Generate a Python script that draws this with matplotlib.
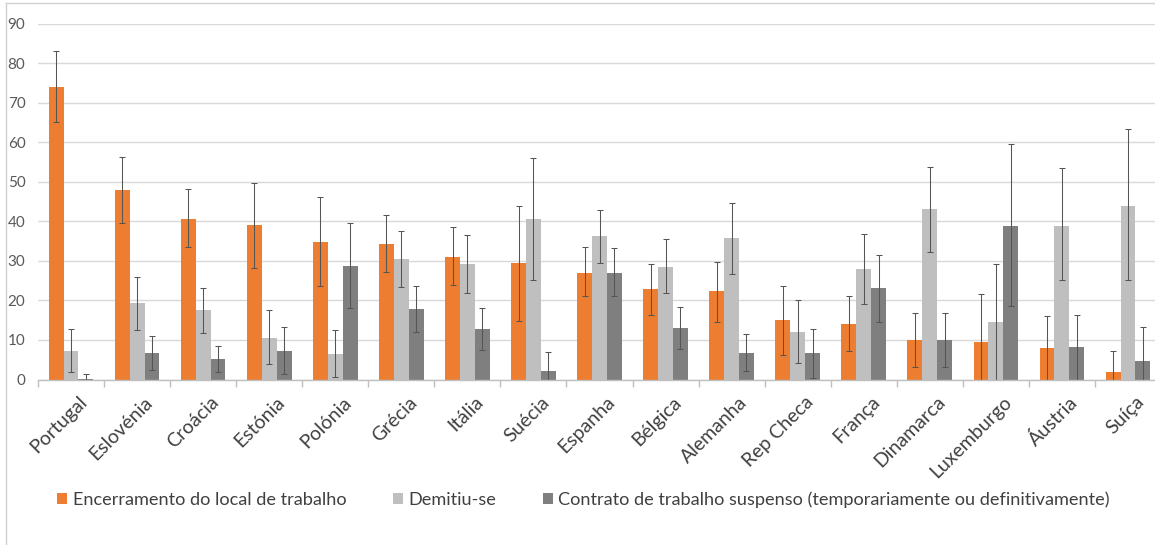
import matplotlib
matplotlib.use("Agg")
import matplotlib.pyplot as plt
import numpy as np
from matplotlib.patches import Patch
from matplotlib.lines import Line2D

countries = ["Portugal", "Eslovénia", "Croácia", "Estónia", "Polónia", "Grécia",
             "Itália", "Suécia", "Espanha", "Bélgica", "Alemanha", "Rep Checa",
             "França", "Dinamarca", "Luxemburgo", "Áustria", "Suíça"]

series_names = ["Encerramento do local de trabalho", "Demitiu-se",
                "Contrato de trabalho suspenso (temporariamente ou definitivamente)"]

encerramento = [74.0, 48.0, 40.7, 39.1, 34.7, 34.3, 31.1, 29.4, 27.0, 23.0, 22.3, 15.0,
                14.0, 10.0, 9.4, 8.0, 1.8]
encerramento_lo = [65.2, 39.7, 33.4, 28.3, 23.6, 27.2, 23.9, 14.9, 21.2, 16.3, 14.6, 6.2,
                   7.3, 3.2, 0.0, 0.0, 0.0]
encerramento_hi = [83.1, 56.4, 48.1, 49.8, 46.1, 41.6, 38.5, 44.0, 33.4, 29.2, 29.8, 23.7,
                   21.1, 16.7, 21.6, 16.0, 7.3]

demitiu = [7.3, 19.3, 17.5, 10.6, 6.5, 30.4, 29.2, 40.5, 36.2, 28.5, 35.7, 12.0,
           27.9, 43.1, 14.5, 38.9, 44.0]
demitiu_lo = [1.9, 12.6, 11.8, 3.8, 0.7, 23.5, 22.0, 25.1, 29.4, 21.8, 26.7, 4.2,
              19.2, 32.3, 0.0, 25.1, 25.1]
demitiu_hi = [12.8, 25.9, 23.2, 17.5, 12.5, 37.5, 36.6, 56.1, 42.9, 35.5, 44.6, 20.1,
              36.9, 53.8, 29.1, 53.4, 63.3]

suspenso = [0.2, 6.7, 5.2, 7.3, 28.8, 17.9, 12.7, 2.2, 26.9, 13.0, 6.8, 6.6,
            23.2, 10.0, 38.8, 8.2, 4.8]
suspenso_lo = [0.0, 2.5, 1.9, 1.3, 18.2, 12.1, 7.4, 0.0, 21.2, 7.8, 2.2, 0.5,
               14.6, 3.2, 18.6, 0.0, 0.0]
suspenso_hi = [1.4, 11.0, 8.6, 13.2, 39.6, 23.6, 18.0, 6.9, 33.2, 18.3, 11.6, 12.7,
               31.4, 16.7, 59.5, 16.3, 13.2]

yticks = [0, 10, 20, 30, 40, 50, 60, 70, 80, 90]

colors = ["#ED7D31", "#BFBFBF", "#7F7F7F"]
text_color = "#595959"
font = ["Lato", "DejaVu Sans"]
plt.rcParams["font.family"] = font

W, H = 1155, 545
fig = plt.figure(figsize=(W / 100, H / 100), dpi=100)
fig.patch.set_facecolor("white")

# plot area (right edge continues slightly past the canvas)
x0, x1, ytop, ybot = 38, 1161, 23.8, 379.5
ax = fig.add_axes([x0 / W, 1 - ybot / H, (x1 - x0) / W, (ybot - ytop) / H])
ax.set_facecolor("white")

n = len(countries)
x = np.arange(n)
bw = 0.225
data = [(encerramento, encerramento_lo, encerramento_hi),
        (demitiu, demitiu_lo, demitiu_hi),
        (suspenso, suspenso_lo, suspenso_hi)]

for i, (vals, lo, hi) in enumerate(data):
    vals = np.array(vals)
    pos = x + (i - 1) * bw
    ax.bar(pos, vals, width=bw, color=colors[i], zorder=2, label=series_names[i])
    yerr = np.vstack([vals - np.array(lo), np.array(hi) - vals])
    ax.errorbar(pos, vals, yerr=yerr, fmt="none", ecolor="#555555", elinewidth=0.75,
                capsize=2, capthick=0.75, zorder=3)

ax.set_xlim(-0.5, n - 0.5)
ax.set_ylim(0, 90)
ax.set_yticks(yticks)
ax.yaxis.grid(True, color="#D9D9D9", linewidth=1.0, zorder=0)
ax.set_axisbelow(True)
for s in ["top", "right", "left"]:
    ax.spines[s].set_visible(False)
ax.spines["bottom"].set_color("#BFBFBF")
ax.spines["bottom"].set_linewidth(1.0)
ax.spines["bottom"].set_zorder(4)

ax.tick_params(axis="y", length=0, pad=9, labelsize=11, labelcolor=text_color)
ax.set_xticks(x)
ax.set_xticklabels(countries, rotation=45, ha="right", rotation_mode="anchor",
                   fontsize=14, color="#404040")
ax.tick_params(axis="x", which="major", length=0, pad=10)
ax.set_xticks(np.arange(n + 1) - 0.5, minor=True)
ax.tick_params(axis="x", which="minor", length=5, color="#BFBFBF", width=1)
offset = matplotlib.transforms.ScaledTranslation(7 / 100, 0, fig.dpi_scale_trans)
for lab in ax.get_xticklabels():
    lab.set_transform(lab.get_transform() + offset)

# legend
fs = 13.1
fpx = fs * 100 / 72
handles = [Patch(facecolor=c, edgecolor="none") for c in colors]
fig.legend(handles, series_names, loc="center left",
           bbox_to_anchor=(57 / W, 1 - 500 / H), ncol=3, frameon=False,
           fontsize=fs, handlelength=10 / fpx, handleheight=10 / fpx,
           handletextpad=6 / fpx, columnspacing=46 / fpx, borderpad=0,
           borderaxespad=0, labelcolor="#404040")

# outer frame lines of the chart box
fig.add_artist(Line2D([6 / W, 6 / W], [0, 1 - 3 / H], transform=fig.transFigure,
                      color="#D0D0D0", linewidth=1))
fig.add_artist(Line2D([6 / W, 1], [1 - 3 / H, 1 - 3 / H], transform=fig.transFigure,
                      color="#D0D0D0", linewidth=1))

fig.savefig("out.png", dpi=100, facecolor="white")
